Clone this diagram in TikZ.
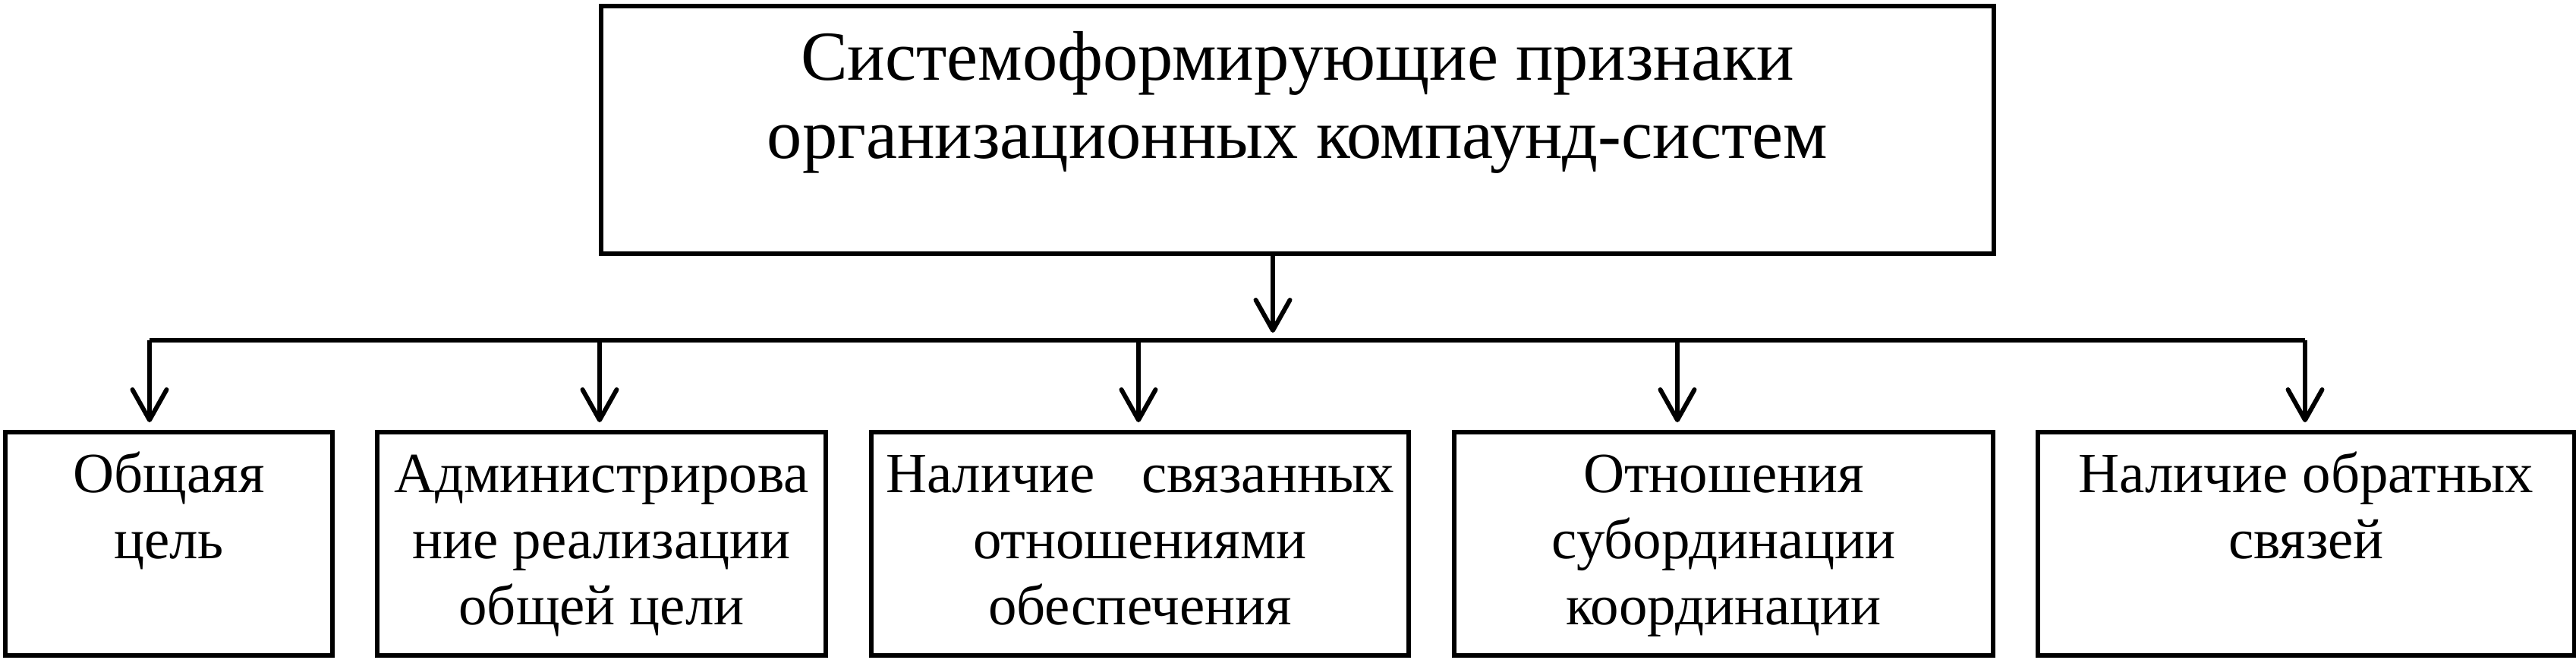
\documentclass[tikz,border=0pt]{standalone}
\usepackage{fontspec}
\setmainfont{Liberation Serif}
\usetikzlibrary{arrows.meta}
\newcommand{\celltext}[4]{\parbox[t][#2][t]{#1}{\vspace*{#3}\centering#4}}
\begin{document}
\begin{tikzpicture}[box/.style={draw, line width=1.7pt, anchor=north west, inner sep=0pt}, arr/.style={line width=1.7pt, -{Straight Barb[length=0.4cm,width=0.45cm,round]}, shorten >=0.1cm}, link/.style={line width=1.7pt}, big/.style={font=\fontsize{26.3}{29.5}\selectfont}, small/.style={font=\fontsize{21.3}{24.7}\selectfont}]
	\useasboundingbox (0,0) rectangle (33.94,-8.69);
	\node[box, big](top) at (7.89,-0.05) {\celltext{18.35cm}{3.26cm}{0.245cm}{\strut Системоформирующие признаки\\ организационных компаунд-систем}};
	\node[box, small](b1) at (0.04,-5.66) {\celltext{4.31cm}{2.94cm}{0.19cm}{\strut Общаяя\\ цель}};
	\node[box, small](b2) at (4.94,-5.66) {\celltext{5.91cm}{2.94cm}{0.19cm}{\strut Администрирова\\ ние реализации\\ общей цели}};
	\node[box, small](b3) at (11.45,-5.66) {\celltext{7.08cm}{2.94cm}{0.19cm}{\strut \makebox[6.7cm][s]{Наличие связанных}\\ отношениями\\ обеспечения}};
	\node[box, small](b4) at (19.13,-5.66) {\celltext{7.10cm}{2.94cm}{0.19cm}{\strut Отношения\\ субординации\\ координации}};
	\node[box, small](b5) at (26.82,-5.66) {\celltext{7.07cm}{2.94cm}{0.19cm}{\strut Наличие обратных\\ связей}};
	\coordinate(hub) at (16.77,-4.48);
	\foreach \n/\x in {1/1.97, 2/7.90, 3/15.00, 4/22.10, 5/30.37}
		\coordinate(br\n) at (\x,-4.48);
	\draw[arr] (top.south -| hub) -- (hub);
	\draw[link] (br1) -- (br5);
	\foreach \n in {1,...,5}
		\draw[arr] (br\n) -- (br\n |- b\n.north);
\end{tikzpicture}
\end{document}
